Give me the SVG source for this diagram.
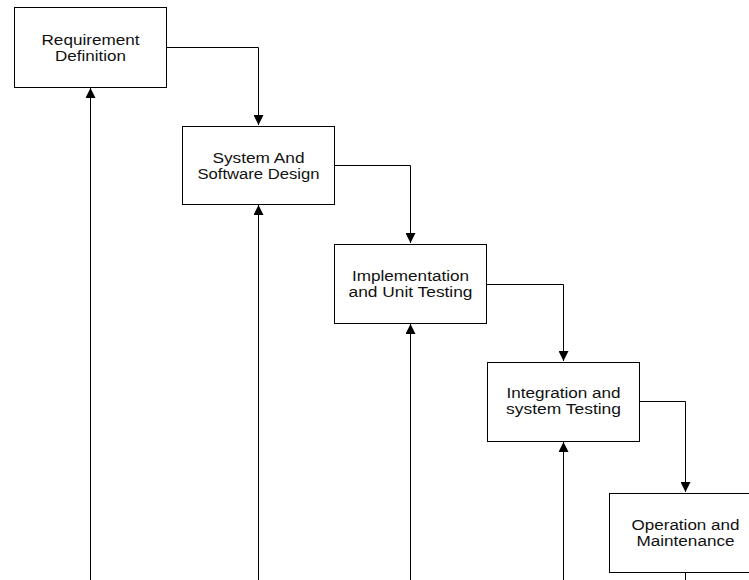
<svg xmlns="http://www.w3.org/2000/svg" width="749" height="580" viewBox="0 0 749 580">
<style>
.box{fill:#fff;stroke:#000;stroke-width:1}
.lbl{font-family:"Liberation Sans",Arial,sans-serif;font-size:14px;fill:#111;text-anchor:middle}
.con{fill:none;stroke:#000;stroke-width:1}
</style>
<defs>
<marker id="ah" viewBox="0 0 10 10" refX="10" refY="5" markerWidth="10" markerHeight="10" markerUnits="userSpaceOnUse" orient="auto">
<path d="M0,0 L10,5 L0,10 Z" fill="#000"/>
</marker>
</defs>
<rect width="749" height="580" fill="#fff"/>
<g id="connectors">
<path class="con" d="M166,47.5 H258.5 V125" marker-end="url(#ah)"/>
<path class="con" d="M334,165.5 H410.5 V243" marker-end="url(#ah)"/>
<path class="con" d="M487,284.5 H563.5 V361" marker-end="url(#ah)"/>
<path class="con" d="M639,401.5 H685.5 V492" marker-end="url(#ah)"/>
<path class="con" d="M90.5,580 V88" marker-end="url(#ah)"/>
<path class="con" d="M258.5,580 V205" marker-end="url(#ah)"/>
<path class="con" d="M410.5,580 V324" marker-end="url(#ah)"/>
<path class="con" d="M563.5,580 V442" marker-end="url(#ah)"/>
<path class="con" d="M685.5,573 V580"/>
</g>
<g id="n1">
<rect class="box" x="14.5" y="7.5" width="152" height="80"/>
<text class="lbl" x="90.5" y="45" textLength="98" lengthAdjust="spacingAndGlyphs">Requirement</text>
<text class="lbl" x="90.5" y="61" textLength="71" lengthAdjust="spacingAndGlyphs">Definition</text>
</g>
<g id="n2">
<rect class="box" x="182.5" y="126.5" width="152" height="78"/>
<text class="lbl" x="258.5" y="163" textLength="92" lengthAdjust="spacingAndGlyphs">System And</text>
<text class="lbl" x="258.5" y="179" textLength="122" lengthAdjust="spacingAndGlyphs">Software Design</text>
</g>
<g id="n3">
<rect class="box" x="334.5" y="244.5" width="152" height="79"/>
<text class="lbl" x="410.5" y="281" textLength="117" lengthAdjust="spacingAndGlyphs">Implementation</text>
<text class="lbl" x="410.5" y="297" textLength="124" lengthAdjust="spacingAndGlyphs">and Unit Testing</text>
</g>
<g id="n4">
<rect class="box" x="487.5" y="362.5" width="152" height="79"/>
<text class="lbl" x="563.5" y="398" textLength="114" lengthAdjust="spacingAndGlyphs">Integration and</text>
<text class="lbl" x="563.5" y="414" textLength="115" lengthAdjust="spacingAndGlyphs">system Testing</text>
</g>
<g id="n5">
<rect class="box" x="609.5" y="493.5" width="152" height="79"/>
<text class="lbl" x="685.5" y="530" textLength="108" lengthAdjust="spacingAndGlyphs">Operation and</text>
<text class="lbl" x="685.5" y="546" textLength="98" lengthAdjust="spacingAndGlyphs">Maintenance</text>
</g>
</svg>
